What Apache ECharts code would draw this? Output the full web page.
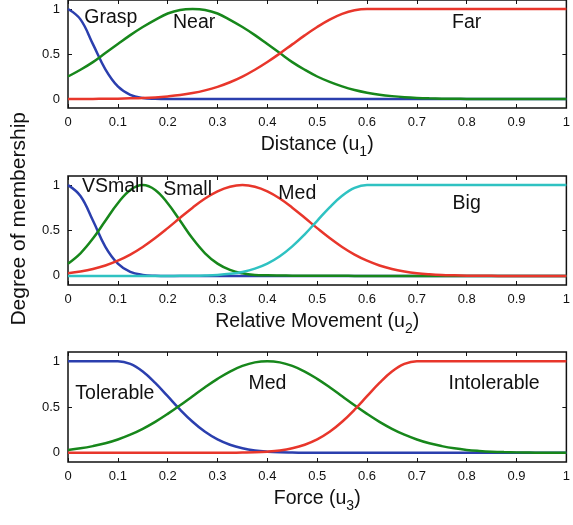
<!DOCTYPE html>
<html>
<head>
<meta charset="utf-8">
<script src="https://cdn.jsdelivr.net/npm/echarts@6/dist/echarts.min.js"></script>
<style>
  html, body { margin: 0; padding: 0; background: #ffffff; }
  #chart { width: 573px; height: 525px; }
</style>
</head>
<body>
<div id="chart"></div>
<script>
// x positions of the sampled curves (step 0.025)
var xs = [0, 0.025, 0.05, 0.075, 0.1, 0.125, 0.15, 0.175, 0.2, 0.225, 0.25, 0.275, 0.3, 0.325, 0.35, 0.375,
  0.4, 0.425, 0.45, 0.475, 0.5, 0.525, 0.55, 0.575, 0.6, 0.625, 0.65, 0.675, 0.7, 0.725, 0.75, 0.775,
  0.8, 0.825, 0.85, 0.875, 0.9, 0.925, 0.95, 0.975, 1];

var yTicks = [0, 0.5, 1];

// panel 1 : Distance
var grasp = [1, 0.885, 0.61, 0.33, 0.14, 0.047, 0.012, 0.0025, 0, 0, 0, 0, 0, 0, 0, 0, 0, 0, 0, 0, 0,
  0, 0, 0, 0, 0, 0, 0, 0, 0, 0, 0, 0, 0, 0, 0, 0, 0, 0, 0, 0];
var near = [0.25, 0.325, 0.41, 0.51, 0.61, 0.71, 0.80, 0.88, 0.95, 0.99, 1, 0.99, 0.95, 0.88, 0.80, 0.71,
  0.61, 0.51, 0.41, 0.325, 0.25, 0.19, 0.14, 0.10, 0.07, 0.048, 0.032, 0.02, 0.012, 0.007, 0.004, 0.002,
  0.001, 0, 0, 0, 0, 0, 0, 0, 0];
var far = [0, 0, 0.001, 0.002, 0.004, 0.007, 0.011, 0.018, 0.029, 0.044, 0.066, 0.096, 0.135, 0.186, 0.249, 0.325,
  0.411, 0.506, 0.607, 0.707, 0.80, 0.882, 0.946, 0.986, 1, 1, 1, 1, 1, 1, 1, 1,
  1, 1, 1, 1, 1, 1, 1, 1, 1];

// panel 2 : Relative Movement
var vsmall = [1, 0.88, 0.61, 0.32, 0.135, 0.044, 0.011, 0.002, 0, 0, 0, 0, 0, 0, 0, 0, 0, 0, 0, 0, 0,
  0, 0, 0, 0, 0, 0, 0, 0, 0, 0, 0, 0, 0, 0, 0, 0, 0, 0, 0, 0];
var small = [0.135, 0.249, 0.411, 0.607, 0.80, 0.946, 1, 0.946, 0.80, 0.607, 0.411, 0.249, 0.135, 0.066, 0.029, 0.011,
  0.006, 0.004, 0.003, 0.002, 0.002, 0.001, 0.001, 0, 0, 0, 0, 0, 0, 0, 0, 0,
  0, 0, 0, 0, 0, 0, 0, 0, 0];
var med2 = [0.03, 0.049, 0.076, 0.115, 0.168, 0.235, 0.319, 0.417, 0.526, 0.64, 0.751, 0.852, 0.931, 0.982, 1, 0.982,
  0.931, 0.852, 0.751, 0.64, 0.526, 0.417, 0.319, 0.235, 0.168, 0.115, 0.076, 0.049, 0.03, 0.018, 0.01, 0.006,
  0.003, 0.002, 0.001, 0, 0, 0, 0, 0, 0];
var big = [0, 0, 0, 0, 0, 0, 0, 0, 0, 0.001, 0.002, 0.005, 0.011, 0.023, 0.044, 0.08,
  0.135, 0.216, 0.325, 0.458, 0.607, 0.755, 0.882, 0.969, 1, 1, 1, 1, 1, 1, 1, 1,
  1, 1, 1, 1, 1, 1, 1, 1, 1];

// panel 3 : Force
var tolerable = [1, 1, 1, 1, 1, 0.97, 0.887, 0.763, 0.618, 0.471, 0.339, 0.229, 0.146, 0.088, 0.05, 0.026,
  0.013, 0.006, 0.003, 0.001, 0, 0, 0, 0, 0, 0, 0, 0, 0, 0, 0, 0,
  0, 0, 0, 0, 0, 0, 0, 0, 0];
var med3 = [0.032, 0.049, 0.073, 0.104, 0.146, 0.198, 0.262, 0.338, 0.425, 0.519, 0.618, 0.716, 0.807, 0.887, 0.948, 0.987,
  1, 0.987, 0.948, 0.887, 0.807, 0.716, 0.618, 0.519, 0.425, 0.338, 0.262, 0.198, 0.146, 0.104, 0.073, 0.049,
  0.032, 0.021, 0.013, 0.008, 0.005, 0.003, 0.0015, 0.001, 0.0005];
var intolerable = [0, 0, 0, 0, 0, 0, 0, 0, 0, 0, 0, 0, 0, 0.001, 0.003, 0.006,
  0.013, 0.026, 0.05, 0.088, 0.146, 0.229, 0.339, 0.471, 0.618, 0.763, 0.887, 0.97, 1, 1, 1, 1,
  1, 1, 1, 1, 1, 1, 1, 1, 1];

// curve names with their label spots [name, x, y]
var labels1 = [["Grasp", 0.086, 0.9], ["Near", 0.253, 0.85], ["Far", 0.8, 0.85]];
var labels2 = [["VSmall", 0.09, 0.98], ["Small", 0.24, 0.95], ["Med", 0.46, 0.91], ["Big", 0.8, 0.8]];
var labels3 = [["Tolerable", 0.094, 0.65], ["Med", 0.4, 0.75], ["Intolerable", 0.855, 0.75]];

var axisNames = [["Distance (u", "1", ")"], ["Relative Movement (u", "2", ")"], ["Force (u", "3", ")"]];

var BLUE = "#2b3fae", GREEN = "#17871b", RED = "#e8362b", CYAN = "#2fc2c2";
var FONT = "Liberation Sans";
var INK = "#111";

function pairs(ys) {
  return xs.map(function (x, i) { return [x, ys[i]]; });
}

var grids = [
  { left: 68, right: 5, top: -1, height: 109 },
  { left: 68, right: 5, top: 176, height: 109 },
  { left: 68, right: 5, top: 352, height: 110 }
];
grids.forEach(function (g) {
  g.show = true;
  g.borderColor = INK;
  g.borderWidth = 1.5;
  g.backgroundColor = "transparent";
});

var xAxes = [], yAxes = [];
for (var i = 0; i < 3; i++) {
  var n = axisNames[i];
  xAxes.push({
    type: "value", gridIndex: i, min: 0, max: 1, interval: 0.1, position: "bottom",
    axisLine: { show: false, onZero: false },
    splitLine: { show: false },
    axisTick: { inside: true, length: 4, lineStyle: { color: INK } },
    axisLabel: { color: INK, fontSize: 13, fontFamily: FONT, margin: 8 },
    name: "{t|" + n[0] + "}{s|" + n[1] + "}{t|" + n[2] + "}",
    nameLocation: "middle", nameGap: 23,
    nameTextStyle: {
      rich: {
        t: { fontSize: 19.5, fontFamily: FONT, color: INK },
        s: { fontSize: 14, fontFamily: FONT, color: INK, verticalAlign: "bottom", padding: [14, 0, 0, 0] }
      }
    }
  });
  xAxes.push({
    type: "value", gridIndex: i, min: 0, max: 1, interval: 0.1, position: "top",
    axisLine: { show: false, onZero: false }, splitLine: { show: false }, axisLabel: { show: false },
    axisTick: { inside: true, length: 4, lineStyle: { color: INK } }
  });
  yAxes.push({
    type: "value", gridIndex: i, min: -0.1, max: 1.1, position: "left",
    axisLine: { show: false, onZero: false }, splitLine: { show: false },
    axisTick: { inside: true, length: 4, customValues: yTicks, lineStyle: { color: INK } },
    axisLabel: { color: INK, fontSize: 13, fontFamily: FONT, margin: 8, customValues: yTicks }
  });
  yAxes.push({
    type: "value", gridIndex: i, min: -0.1, max: 1.1, position: "right",
    axisLine: { show: false, onZero: false }, splitLine: { show: false }, axisLabel: { show: false },
    axisTick: { inside: true, length: 4, customValues: yTicks, lineStyle: { color: INK } }
  });
}

function curve(panel, ys, color) {
  return {
    type: "line", xAxisIndex: panel * 2, yAxisIndex: panel * 2,
    data: pairs(ys), showSymbol: false, smooth: 0.4,
    lineStyle: { color: color, width: 2.5 }, z: 3
  };
}

function tags(panel, list) {
  return {
    type: "scatter", xAxisIndex: panel * 2, yAxisIndex: panel * 2,
    symbolSize: 1, itemStyle: { color: "rgba(0,0,0,0)", opacity: 1 }, silent: true, z: 5,
    label: {
      show: true, position: "inside", formatter: "{b}", fontSize: 19.5, fontFamily: FONT,
      color: INK, opacity: 1, textBorderWidth: 0
    },
    data: list.map(function (d) { return { name: d[0], value: [d[1], d[2]] }; })
  };
}

var option = {
  backgroundColor: "#ffffff",
  animation: false,
  grid: grids,
  xAxis: xAxes,
  yAxis: yAxes,
  graphic: [{
    type: "text", left: 9, top: 112, rotation: Math.PI / 2,
    style: { text: "Degree of membership", font: "21px " + FONT, fill: INK }
  }],
  series: [
    curve(0, grasp, BLUE), curve(0, near, GREEN), curve(0, far, RED), tags(0, labels1),
    curve(1, vsmall, BLUE), curve(1, small, GREEN), curve(1, med2, RED), curve(1, big, CYAN), tags(1, labels2),
    curve(2, tolerable, BLUE), curve(2, med3, GREEN), curve(2, intolerable, RED), tags(2, labels3)
  ]
};

var myChart = echarts.init(document.getElementById("chart"));
myChart.setOption(option);
</script>
</body>
</html>
